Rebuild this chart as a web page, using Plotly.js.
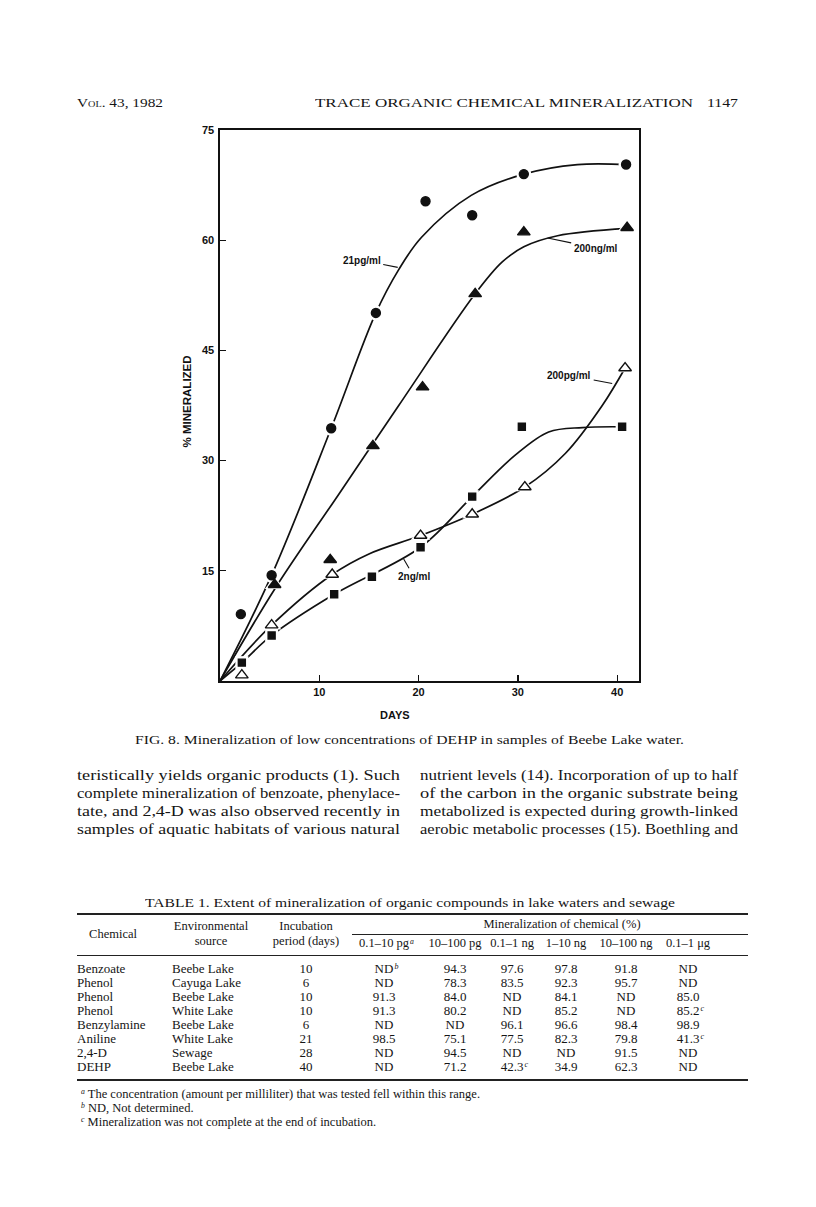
<!DOCTYPE html>
<html><head><meta charset="utf-8">
<script src="https://cdn.plot.ly/plotly-3.0.1.min.js"></script>
<style>
html,body{margin:0;padding:0;background:#fff;}
#wrap{position:relative;width:816px;height:1207px;overflow:hidden;background:#fff;}
#chart{position:absolute;left:0;top:0;width:816px;height:1207px;}
#over{position:absolute;left:0;top:0;width:816px;height:1207px;pointer-events:none;}
.t{position:absolute;white-space:nowrap;font-family:'Liberation Serif','Times New Roman',serif;color:#151515;line-height:1;transform-origin:0 50%;}
.t sup{font-size:0.62em;vertical-align:0;position:relative;top:-0.45em;font-style:italic;margin-left:1px;}
.rule{position:absolute;background:#222;}
</style></head><body>
<div id="wrap"><div id="chart"></div><div id="over"></div></div>
<script>
// ---------- chart data ----------
// 21 pg/ml (filled circles)
const days21 = [2.1, 5.2, 11.2, 15.7, 20.7, 25.4, 30.6, 40.9];
const pct21  = [9.1, 14.4, 34.4, 50.1, 65.3, 63.4, 69.0, 70.3];
const curveDays21 = [0, 5.2, 11.2, 15.7, 18.0, 20.3, 25.3, 30.6, 36.0, 41.0];
const curvePct21  = [0, 14.4, 34.4, 50.1, 56.0, 60.4, 66.1, 69.0, 70.3, 70.3];
// 200 ng/ml (filled triangles)
const days200ng = [5.5, 11.1, 15.4, 20.4, 25.7, 30.6, 41.0];
const pct200ng  = [13.1, 16.5, 32.0, 40.0, 52.7, 61.1, 61.7];
const curveDays200ng = [0, 5.5, 12.0, 18.0, 25.7, 28.4, 30.6, 34.0, 41.0];
const curvePct200ng  = [0, 12.5, 25.5, 37.5, 52.7, 57.0, 59.1, 60.6, 61.6];
// 200 pg/ml (open triangles)
const days200pg = [2.2, 5.2, 11.3, 20.2, 25.4, 30.7, 40.8];
const pct200pg  = [0.8, 7.6, 14.5, 19.8, 22.7, 26.4, 42.6];
const curveDays200pg = [0, 5.2, 11.3, 15.0, 20.2, 25.4, 30.7, 34.8, 38.5, 40.8];
const curvePct200pg  = [0, 7.6, 14.5, 17.3, 19.8, 22.7, 26.4, 31.0, 37.5, 42.6];
// 2 ng/ml (filled squares)
const days2ng = [2.2, 5.2, 11.5, 15.3, 20.2, 25.4, 30.4, 40.5];
const pct2ng  = [2.5, 6.2, 11.8, 14.2, 18.2, 25.1, 34.6, 34.6];
const curveDays2ng = [0, 2.2, 5.2, 11.5, 20.2, 25.4, 29.7, 33.1, 36.5, 40.5];
const curvePct2ng  = [0, 2.5, 6.2, 11.8, 18.2, 25.1, 30.7, 33.9, 34.5, 34.6];

const xTicks = [10, 20, 30, 40];
const yTicks = [15, 30, 45, 60, 75];
const seriesLabels = ['21pg/ml', '200ng/ml', '200pg/ml', '2ng/ml'];

// ---------- table data ----------
const chemicals = ['Benzoate','Phenol','Phenol','Phenol','Benzylamine','Aniline','2,4-D','DEHP'];
const sources   = ['Beebe Lake','Cayuga Lake','Beebe Lake','White Lake','Beebe Lake','White Lake','Sewage','Beebe Lake'];
const periods   = ['10','6','10','10','6','21','28','40'];
const concRanges = ['0.1–10 pg^a','10–100 pg','0.1–1 ng','1–10 ng','10–100 ng','0.1–1 μg'];
const range1 = ['ND^b','ND','91.3','91.3','ND','98.5','ND','ND'];
const range2 = ['94.3','78.3','84.0','80.2','ND','75.1','94.5','71.2'];
const range3 = ['97.6','83.5','ND','ND','96.1','77.5','ND','42.3^c'];
const range4 = ['97.8','92.3','84.1','85.2','96.6','82.3','ND','34.9'];
const range5 = ['91.8','95.7','ND','ND','98.4','79.8','91.5','62.3'];
const range6 = ['ND','ND','85.0','85.2^c','98.9','41.3^c','ND','ND'];
const footnotes = [
  ['a','The concentration (amount per milliliter) that was tested fell within this range.'],
  ['b','ND, Not determined.'],
  ['c','Mineralization was not complete at the end of incubation.']
];

// ---------- chart ----------
const K = '#111';
const fnt = {family:'Liberation Sans, Arial, sans-serif', size:11, weight:'bold', color:K};
function curve(x,y){return {x:x,y:y,mode:'lines',type:'scatter',line:{color:K,width:1.7,shape:'spline',smoothing:1},hoverinfo:'skip'};}
function halo(x,y,sym,size){return {x:x,y:y,mode:'markers',type:'scatter',marker:{symbol:sym,size:size+6,color:'#fff',line:{width:0}},hoverinfo:'skip'};}
function pts(x,y,sym,size,fill){return {x:x,y:y,mode:'markers',type:'scatter',marker:{symbol:sym,size:size,color:fill,line:{color:K,width:1.4}}};}
const traces = [
  curve(curveDays21,curvePct21), curve(curveDays200ng,curvePct200ng),
  curve(curveDays200pg,curvePct200pg), curve(curveDays2ng,curvePct2ng),
  halo(days21,pct21,'circle',9), halo(days200ng,pct200ng,'triangle-up',11),
  halo(days200pg,pct200pg,'triangle-up',11), halo(days2ng,pct2ng,'square',7),
  pts(days21,pct21,'circle',9,K), pts(days200ng,pct200ng,'triangle-up',11,K),
  pts(days200pg,pct200pg,'triangle-up',11,'#fff'), pts(days2ng,pct2ng,'square',7,K)
];
const lblFont = {family:'Liberation Sans, Arial, sans-serif', size:10, weight:'bold', color:K};
function lab(t,x,y,ax,ay){return {text:t,x:x,y:y,xref:'x',yref:'y',showarrow:true,ax:ax,ay:ay,arrowhead:0,arrowwidth:1.1,arrowcolor:K,font:lblFont,standoff:0,startstandoff:1};}
const layout = {
  width:816, height:1207, margin:{l:220,r:177,t:130,b:526,pad:0},
  paper_bgcolor:'#fff', plot_bgcolor:'#fff', showlegend:false,
  xaxis:{range:[0,42.2], tickvals:xTicks, ticktext:xTicks.map(String), ticks:'inside', ticklen:6, tickwidth:1.3, tickcolor:K,
    showline:true, linecolor:K, linewidth:1.6, mirror:true, showgrid:false, zeroline:false, tickfont:fnt, fixedrange:true},
  yaxis:{range:[0,75], tickvals:yTicks, ticktext:yTicks.map(String), ticks:'inside', ticklen:6, tickwidth:1.3, tickcolor:K,
    showline:true, linecolor:K, linewidth:1.6, mirror:true, showgrid:false, zeroline:false, tickfont:fnt, fixedrange:true, ticklabelstandoff:2},
  annotations:[
    lab(seriesLabels[0], 17.9, 56.3, -36, -7),
    lab(seriesLabels[1], 33.0, 60.3, 48, 10),
    lab(seriesLabels[2], 39.5, 40.5, -43, -8),
    lab(seriesLabels[3], 18.5, 16.6, 10, 17),
    {text:'% MINERALIZED', xref:'paper', yref:'paper', x:-0.078, y:0.508, xanchor:'center', yanchor:'middle', textangle:-90, showarrow:false, font:{family:fnt.family, size:11.5, weight:'bold', color:K}},
    {text:'DAYS', xref:'paper', yref:'paper', x:0.418, y:-0.062, xanchor:'center', yanchor:'middle', showarrow:false, font:fnt}
  ]
};
Plotly.newPlot('chart', traces, layout, {staticPlot:true, displayModeBar:false});

// ---------- page text ----------
const over = document.getElementById('over');
function mk(html,size,cls){const d=document.createElement('div');d.className='t'+(cls?' '+cls:'');d.style.fontSize=size+'px';d.innerHTML=html;over.appendChild(d);return d;}
function fit(html,x1,x2,cy,size){const d=mk(html,size);const w=d.getBoundingClientRect().width;d.style.left=x1+'px';d.style.top=(cy-0.55*size)+'px';d.style.transform='scaleX('+((x2-x1)/w)+')';return d;}
function left(html,x,cy,size){const d=mk(html,size);d.style.left=x+'px';d.style.top=(cy-0.55*size)+'px';return d;}
function center(html,cx,cy,size){const d=mk(html,size);const w=d.getBoundingClientRect().width;d.style.left=(cx-w/2)+'px';d.style.top=(cy-0.55*size)+'px';return d;}
function centerSup(val,cx,cy,size){const p=val.split('^');const d=center(p[0],cx,cy,size);if(p[1]){d.innerHTML=p[0]+'<sup>'+p[1]+'</sup>';}return d;}
function rule(x1,x2,y,h){const r=document.createElement('div');r.className='rule';r.style.left=x1+'px';r.style.width=(x2-x1)+'px';r.style.top=y+'px';r.style.height=h+'px';over.appendChild(r);}

// header
fit('<span style="font-variant:small-caps">Vol. 43, 1982</span>',77,163,103,13.5);
fit('TRACE ORGANIC CHEMICAL MINERALIZATION',315,693,103,13.5);
fit('1147',707,738,103,13.5);
// caption
fit('FIG. 8. Mineralization of low concentrations of DEHP in samples of Beebe Lake water.',135,684,740,13.5);
// body text
const leftLines = ['teristically yields organic products (1). Such','complete mineralization of benzoate, phenylace-','tate, and 2,4-D was also observed recently in','samples of aquatic habitats of various natural'];
const rightLines = ['nutrient levels (14). Incorporation of up to half','of the carbon in the organic substrate being','metabolized is expected during growth-linked','aerobic metabolic processes (15). Boethling and'];
leftLines.forEach((s,i)=>fit(s,77,400,776+18*i,15));
rightLines.forEach((s,i)=>fit(s,420,738,776+18*i,15));
// table
fit('TABLE 1. Extent of mineralization of organic compounds in lake waters and sewage',145,675,903,13);
rule(77,748,913,2);
center('Chemical',113,935,12.5);
center('Environmental',211,927,12.5);
center('source',211,942,12.5);
center('Incubation',306,927,12.5);
center('period (days)',306,942,12.5);
center('Mineralization of chemical (%)',562,925,12.5);
rule(352,748,934,1);
const colX = [384,455,512,566,626,688];
concRanges.forEach((s,i)=>centerSup(s,colX[i],944,12.5));
rule(77,748,955,1);
const cols = [range1,range2,range3,range4,range5,range6];
chemicals.forEach((c,r)=>{
  const cy = 969+14*r;
  left(c,77,cy,13);
  left(sources[r],172,cy,13);
  center(periods[r],306,cy,13);
  cols.forEach((col,k)=>centerSup(col[r],colX[k],cy,13));
});
rule(77,748,1079,2);
footnotes.forEach((f,i)=>{
  const cy=1095+14*i;
  left('<sup style="top:-0.5em">'+f[0]+'</sup> '+f[1],80,cy,12.5);
});
</script>
</body></html>
